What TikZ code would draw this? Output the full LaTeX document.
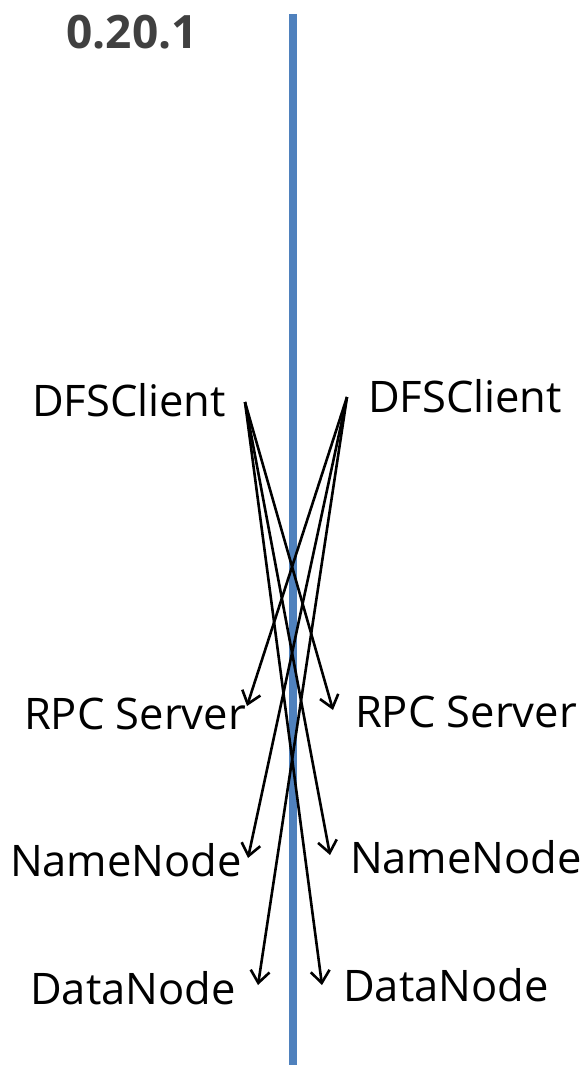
\documentclass[tikz,border=0pt]{standalone}
\usepackage{fontspec}
\setmainfont{Open Sans}
\usetikzlibrary{arrows.meta}
\definecolor{axisblue}{HTML}{4F81BD}
\definecolor{titlegray}{HTML}{404040}
\tikzset{
  lbl/.style={font=\fontsize{43.5}{48}\selectfont, inner sep=0pt, anchor=center},
  call/.style={line width=2.6pt, -{Straight Barb[length=12pt,width=19pt,line width=2.6pt]}},
}
\begin{document}
\begin{tikzpicture}[x=1pt,y=-1pt]
\useasboundingbox (0,0) rectangle (588,1065);
% version divider
\draw[axisblue, line width=8pt] (293,14) -- (293,1065);
\node[font=\fontsize{46}{50}\selectfont\bfseries, text=titlegray, inner sep=0pt] (ver) at (132,32) {0.20.1};

% clients
\node[lbl] (cl) at (129,400) {DFSClient};
\node[lbl] (cr) at (465,396) {DFSClient};
\coordinate (sl) at (245,402);
\coordinate (sr) at (347,397);

% targets on the left side
\node[lbl] (rpcl) at (135,714) {RPC Server};
\node[lbl] (nnl) at (126,860) {NameNode};
\node[lbl] (dnl) at (133,988) {DataNode};
% targets on the right side
\node[lbl] (rpcr) at (466,712) {RPC Server};
\node[lbl] (nnr) at (466,857) {NameNode};
\node[lbl] (dnr) at (446,985) {DataNode};

\coordinate (tr1) at (333,710);
\coordinate (tr2) at (330,855);
\coordinate (tr3) at (322,985);
\coordinate (tl1) at (247,706);
\coordinate (tl2) at (248,858);
\coordinate (tl3) at (258,985);

\draw[call] (sl) -- (tr1);
\draw[call] (sl) -- (tr2);
\draw[call] (sl) -- (tr3);
\draw[call] (sr) -- (tl1);
\draw[call] (sr) -- (tl2);
\draw[call] (sr) -- (tl3);
\end{tikzpicture}
\end{document}
